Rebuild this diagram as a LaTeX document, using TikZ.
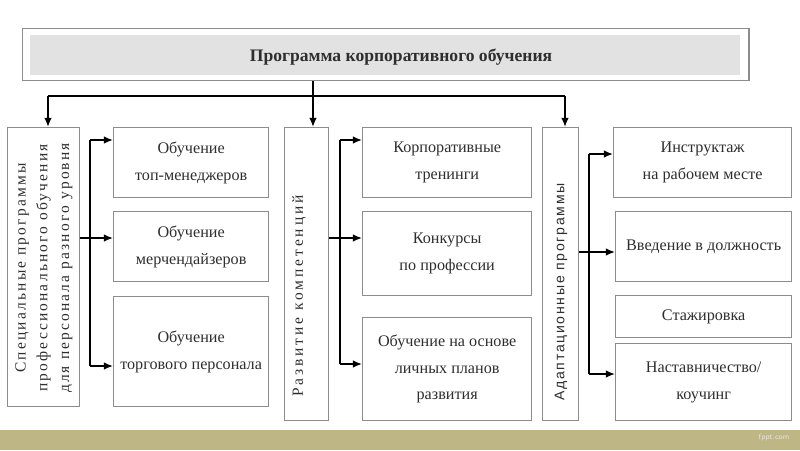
\documentclass[tikz,border=0pt]{standalone}
\usepackage{fontspec}
\setmainfont{Liberation Serif}
\newfontfamily\sidefont[LetterSpace=14]{Liberation Serif}
\newfontfamily\sidewide[LetterSpace=19]{Liberation Serif}
\newfontfamily\sidesans[LetterSpace=12]{Liberation Sans}
\usetikzlibrary{arrows.meta}
\definecolor{boxgray}{HTML}{8C8C8C}
\definecolor{titlefill}{HTML}{E2E2E2}
\definecolor{bandolive}{HTML}{BFB685}
\definecolor{txt}{HTML}{2E2E2E}

\begin{document}
\begin{tikzpicture}[x=0.025cm, y=-0.025cm,
    box/.style={draw=boxgray, line width=0.9pt, fill=white, anchor=north west,
                inner sep=2pt, align=center, text=txt,
                font=\fontsize{11.5}{19}\selectfont},
    sidetext/.style={rotate=90, align=center, text=txt},
    line/.style={line width=1.2pt, black},
    arr/.style={line, -{Latex[length=6.5pt, width=5.5pt]}}]

    % 0. Page and bottom band
    \useasboundingbox (0,0) rectangle (800,450);
    \fill[white] (0,0) rectangle (800,450);
    \fill[bandolive] (0,430) rectangle (800,450);
    \node[text=white!90!black, font=\sffamily\fontsize{5.5}{6}\selectfont] (fppt) at (774,438) {fppt.com};

    % 1. Title frame
    \node[draw=boxgray, line width=1pt, anchor=north west,
          minimum width=18.15cm, minimum height=1.3cm] (frame) at (22,28) {};
    \node[fill=titlefill, anchor=north west,
          minimum width=17.75cm, minimum height=1cm] (title) at (30,35) {};
    \node[text=txt, font=\bfseries\fontsize{12.5}{14}\selectfont] (titletext) at (401,57)
        {Программа корпоративного обучения};

    % 2. Three column boxes
    \node[box, minimum width=1.8cm, minimum height=6.975cm] (colA) at (7,127) {};
    \node[box, minimum width=1.1cm, minimum height=7.325cm] (colB) at (284,127) {};
    \node[box, minimum width=0.9cm, minimum height=7.325cm] (colC) at (542,127) {};

    \node[sidetext, font=\sidefont\fontsize{11}{15.5}\selectfont] (colAtext) at (44,268)
        {Специальные программы\\профессионального обучения\\для персонала разного уровня};
    \node[sidetext, font=\sidewide\fontsize{11}{14}\selectfont] (colBtext) at (299,296)
        {Развитие компетенций};
    \node[sidetext, font=\sidesans\fontsize{10}{12}\selectfont] (colCtext) at (561,292)
        {Адаптационные программы};

    % 3. Sub-boxes of the first column
    \node[box, minimum width=3.875cm, minimum height=1.75cm] (a1) at (113,127) {Обучение\\топ-менеджеров};
    \node[box, minimum width=3.875cm, minimum height=1.75cm] (a2) at (113,211) {Обучение\\мерчендайзеров};
    \node[box, minimum width=3.875cm, minimum height=2.75cm] (a3) at (113,296) {Обучение\\торгового персонала};

    % 4. Sub-boxes of the second column
    \node[box, minimum width=4.225cm, minimum height=1.75cm] (b1) at (362,127) {Корпоративные\\тренинги};
    \node[box, minimum width=4.225cm, minimum height=2.1cm] (b2) at (362,211) {Конкурсы\\по профессии};
    \node[box, minimum width=4.225cm, minimum height=2.575cm] (b3) at (362,317) {Обучение на основе\\личных планов\\развития};

    % 5. Sub-boxes of the third column
    \node[box, minimum width=4.45cm, minimum height=1.75cm] (c1) at (613,127) {Инструктаж\\на рабочем месте};
    \node[box, minimum width=4.4cm, minimum height=1.75cm] (c2) at (615,211) {Введение в должность};
    \node[box, minimum width=4.4cm, minimum height=1.05cm] (c3) at (615,295) {Стажировка};
    \node[box, minimum width=4.4cm, minimum height=1.925cm] (c4) at (615,343) {Наставничество/\\коучинг};

    % 6. Bus from the title down to the columns
    \coordinate (busA) at (48,96);
    \coordinate (busB) at (313,96);
    \coordinate (busC) at (565,96);
    \draw[line] (busA) -- (busC);
    \draw[line] (frame.south -| busB) -- (busB);
    \draw[arr] (busA) -- (busA |- colA.north);
    \draw[arr] (busB) -- (busB |- colB.north);
    \draw[arr] (busC) -- (busC |- colC.north);

    % 7. Brackets from each column to its sub-boxes
    \coordinate (jA1) at (90,140);
    \coordinate (jA2) at (90,238);
    \coordinate (jA3) at (90,366);
    \draw[line] (jA1) -- (jA3);
    \draw[arr] (jA1) -- (jA1 -| a1.west);
    \draw[arr] (colA.east |- jA2) -- (jA2 -| a2.west);
    \draw[arr] (jA3) -- (jA3 -| a3.west);

    \coordinate (jB1) at (340,140);
    \coordinate (jB2) at (340,238);
    \coordinate (jB3) at (340,364);
    \draw[line] (jB1) -- (jB3);
    \draw[arr] (jB1) -- (jB1 -| b1.west);
    \draw[arr] (colB.east |- jB2) -- (jB2 -| b2.west);
    \draw[arr] (jB3) -- (jB3 -| b3.west);

    \coordinate (jC1) at (589,154);
    \coordinate (jC2) at (589,252);
    \coordinate (jC4) at (589,374);
    \draw[line] (jC1) -- (jC4);
    \draw[arr] (jC1) -- (jC1 -| c1.west);
    \draw[arr] (colC.east |- jC2) -- (jC2 -| c2.west);
    \draw[arr] (jC4) -- (jC4 -| c4.west);

\end{tikzpicture}
\end{document}
